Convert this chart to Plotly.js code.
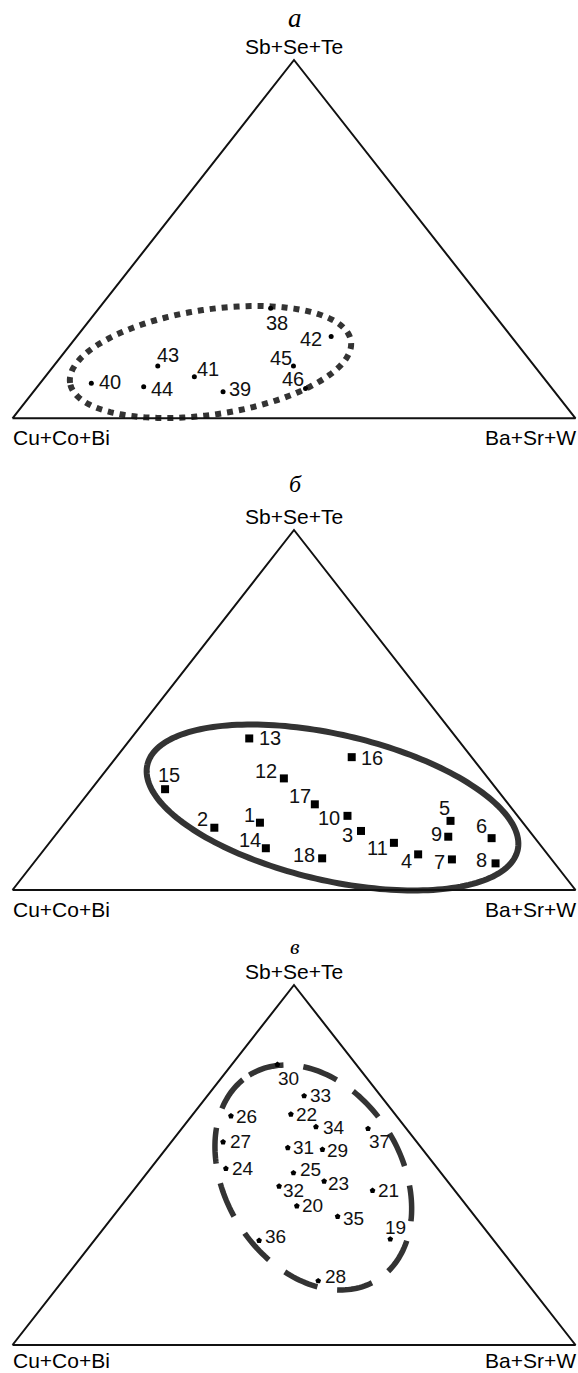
<!DOCTYPE html>
<html><head><meta charset="utf-8">
<script src="https://cdn.plot.ly/plotly-3.0.1.min.js"></script>
<style>html,body{margin:0;padding:0;background:#fff}#chart{width:578px;height:1373px}</style>
</head><body><div id="chart"></div>
<script>
// ---- Data: compositions in %, apex = Sb+Se+Te, left = Cu+Co+Bi, right = Ba+Sr+W ----
// Panel а
const labelsA = ['38','39','40','41','42','43','44','45','46'];
const sbSeTeA = [30.7, 7.4, 9.8, 11.6, 22.8, 14.6, 8.8, 14.6, 8.3];
const cuCoBiA = [38.8, 58.9, 81.1, 61.9, 32.0, 66.9, 72.3, 42.8, 43.8];
const baSrWA  = [30.5, 33.7, 9.1, 26.5, 45.2, 18.5, 18.9, 42.6, 47.9];
// Panel б
const labelsB = ['1','2','3','4','5','6','7','8','9','10','11','12','13','14','15','16','17','18'];
const sbSeTeB = [18.7,17.3,16.4, 9.9,19.2,14.4, 8.5, 7.4,14.8,20.6,13.1,31.0,42.1,11.6,28.0,36.9,23.8, 8.8];
const cuCoBiB = [46.7,55.5,29.9,23.0,12.6, 7.7,17.7,10.5,15.2,30.2,25.7,36.3,36.9,49.2,58.9,21.3,34.4,40.6];
const baSrWB  = [34.6,27.2,53.7,67.1,68.2,77.9,73.8,82.1,70.0,49.2,61.2,32.7,21.0,39.2,13.1,41.8,41.8,50.6];
// Panel в
const labelsC = ['19','20','21','22','23','24','25','26','27','28','29','30','31','32','33','34','35','36','37'];
const sbSeTeC = [29.4,38.6,42.9,64.1,45.5,49.0,47.8,63.6,56.4,17.8,54.3,77.9,54.8,44.1,69.2,60.6,35.7,29.0,60.1];
const cuCoBiC = [18.2,30.2,14.6,18.5,21.9,37.6,26.2,29.4,34.4,36.8,17.8,14.0,23.7,30.6,13.6,15.8,24.4,41.7, 6.8];
const baSrWC  = [52.4,31.2,42.5,17.4,32.6,13.4,26.0, 7.0, 9.2,45.4,27.9, 8.1,21.5,25.3,17.2,23.6,39.9,29.3,33.1];
// Axis (vertex) names
const apexName = 'Sb+Se+Te', leftName = 'Cu+Co+Bi', rightName = 'Ba+Sr+W';
const panelTitles = ['а','б','в'];

// ---- Layout / style (pixel geometry) ----
const FW = 578, FH = 1373, TRI_L = 12.5, TRI_W = 563;
const labelOffsetsA = [[6,15],[17,-3],[19,-1],[14,-8],[-20,2],[10,-11],[18,2],[-12,-8],[-13,-10]];
const labelOffsetsB = [[-10,-8],[-12,-9],[-14,4],[-12,7],[-6,-13],[-10,-12],[-12,3],[-14,-3],[-12,-3],[-18,2],[-16,5],[-18,-7],[21,0],[-16,-8],[4,-14],[20,1],[-15,-8],[-18,-3]];
const labelOffsetsC = [[5,-12],[16,-1],[16,0],[16,0],[14,2],[17,0],[17,-3],[16,0],[17,0],[17,-4],[15,1],[11,14],[16,0],[14,4],[16,0],[18,1],[16,2],[16,-4],[11,13]];

const panels = [
  {sb:sbSeTeA, cu:cuCoBiA, ba:baSrWA, lab:labelsA, off:labelOffsetsA, top:0, bot:460, apex:60, base:418.3, titleY:18, titleSize:27,
   marker:{symbol:'circle', size:5}, numSize:20, cornerShift:-19,
   ell:{cx:210.5, cy:362, a:142, b:52.5, ang:-8.5, width:6, dash:'6px,6px'}},
  {sb:sbSeTeB, cu:cuCoBiB, ba:baSrWB, lab:labelsB, off:labelOffsetsB, top:460, bot:925, apex:530, base:890, titleY:484, titleSize:24,
   marker:{symbol:'square', size:8}, numSize:20, cornerShift:-19,
   ell:{cx:332.5, cy:807.5, a:190, b:73, ang:13, width:6, dash:'solid'}},
  {sb:sbSeTeC, cu:cuCoBiC, ba:baSrWC, lab:labelsC, off:labelOffsetsC, top:925, bot:1373, apex:985, base:1345, titleY:946, titleSize:22,
   marker:{symbol:'pentagon', size:6}, numSize:19, cornerShift:-15,
   ell:{cx:313.3, cy:1177.5, a:120.7, b:88.1, ang:58, width:5.5, dash:'36px,20px'}}
];

function toXY(sb, ba){ return [(ba + sb/2)/100, sb/100]; }

const traces = [], shapes = [], annotations = [];
const layout = {width:FW, height:FH, margin:{l:0,r:0,t:0,b:0}, showlegend:false,
  paper_bgcolor:'#fff', plot_bgcolor:'rgba(0,0,0,0)', font:{family:'Liberation Sans, Arial, sans-serif', color:'#000'}};

panels.forEach((p, i) => {
  const n = i === 0 ? '' : String(i+1);
  const xa = 'x'+n, ya = 'y'+n;
  const h = p.base - p.apex;
  layout['xaxis'+n] = {domain:[0,1], range:[-TRI_L/TRI_W, (FW-TRI_L)/TRI_W], visible:false, fixedrange:true, anchor:ya};
  layout['yaxis'+n] = {domain:[1-p.bot/FH, 1-p.top/FH], range:[(p.base-p.bot)/h, (p.base-p.top)/h], visible:false, fixedrange:true, anchor:xa};

  // triangle frame from the three pure end-member compositions
  const verts = [[0,100,0],[0,0,100],[100,0,0],[0,100,0]];
  const vxy = verts.map(v => toXY(v[0], v[2]));
  traces.push({type:'scatter', mode:'lines', x:vxy.map(v=>v[0]), y:vxy.map(v=>v[1]), xaxis:xa, yaxis:ya,
    line:{color:'#111', width:2}, hoverinfo:'skip', cliponaxis:false});

  // points
  const xy = p.sb.map((s,k) => toXY(s, p.ba[k]));
  traces.push({type:'scatter', mode:'markers', x:xy.map(v=>v[0]), y:xy.map(v=>v[1]), xaxis:xa, yaxis:ya,
    text:p.lab, customdata:p.cu, cliponaxis:false,
    marker:{symbol:p.marker.symbol, size:p.marker.size, color:'#000', line:{width:0}},
    hovertemplate:'%{text}<extra></extra>'});

  xy.forEach((v,k) => {
    annotations.push({xref:xa, yref:ya, x:v[0], y:v[1], text:p.lab[k], showarrow:false,
      xanchor:'center', yanchor:'middle', xshift:p.off[k][0], yshift:-p.off[k][1],
      font:{size:p.numSize, color:'#111', family:'Liberation Sans, Arial, sans-serif'}});
  });

  // vertex labels
  const apexXY = toXY(100,0), leftXY = toXY(0,0), rightXY = toXY(0,100);
  annotations.push({xref:xa, yref:ya, x:apexXY[0], y:apexXY[1], text:apexName, showarrow:false,
    xanchor:'center', yanchor:'middle', yshift:14, font:{size:21}});
  annotations.push({xref:xa, yref:ya, x:leftXY[0], y:leftXY[1], text:leftName, showarrow:false,
    xanchor:'left', yanchor:'middle', xshift:-2, yshift:p.cornerShift, font:{size:21}});
  annotations.push({xref:xa, yref:ya, x:rightXY[0], y:rightXY[1], text:rightName, showarrow:false,
    xanchor:'right', yanchor:'middle', xshift:2, yshift:p.cornerShift, font:{size:21}});

  // panel title
  annotations.push({xref:'paper', yref:'paper', x:295/FW, y:1-p.titleY/FH, text:panelTitles[i], showarrow:false,
    xanchor:'center', yanchor:'middle', font:{size:p.titleSize, family:'Liberation Serif, Times New Roman, serif', style:'italic'}});

  // field outline (ellipse)
  const e = p.ell, th = e.ang*Math.PI/180, N = 200, pts = [];
  for (let k=0;k<=N;k++){
    const t = 2*Math.PI*k/N + Math.PI;
    const u = e.a*Math.cos(t), w = e.b*Math.sin(t);
    const px = e.cx + u*Math.cos(th) - w*Math.sin(th);
    const py = e.cy + u*Math.sin(th) + w*Math.cos(th);
    pts.push(((px-TRI_L)/TRI_W).toFixed(5)+','+((p.base-py)/h).toFixed(5));
  }
  shapes.push({type:'path', xref:xa, yref:ya, path:'M'+pts.join('L'), layer:'below',
    line:{color:'#333', width:e.width, dash:e.dash}});
});

layout.shapes = shapes;
layout.annotations = annotations;
Plotly.newPlot('chart', traces, layout, {displayModeBar:false, staticPlot:true});
</script>
</body></html>
